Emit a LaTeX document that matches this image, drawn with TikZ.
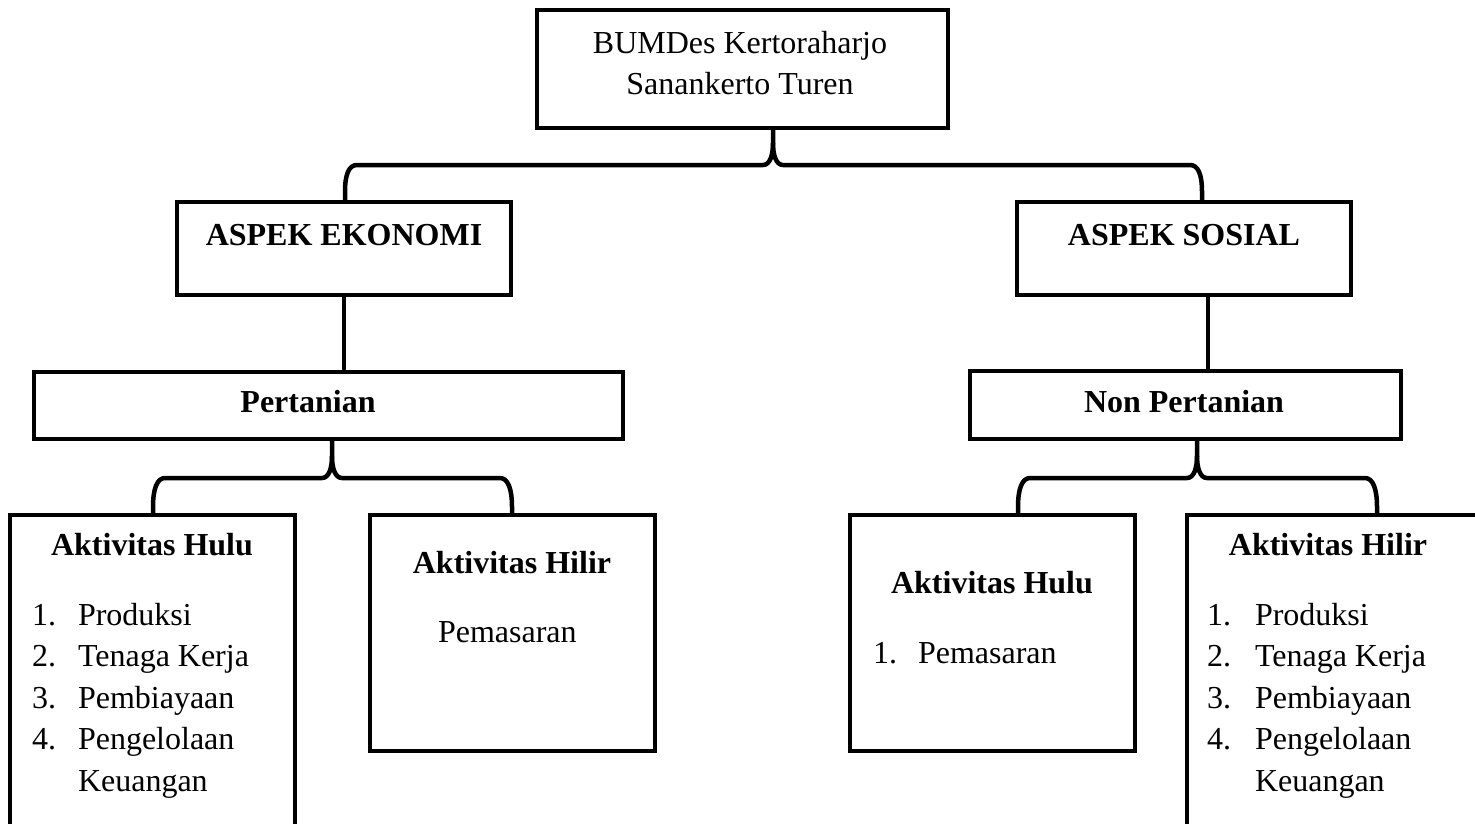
\documentclass[tikz,border=0pt]{standalone}
\usepackage{fontspec}
\setmainfont{Liberation Serif}
\usetikzlibrary{calc}
\begin{document}
\begin{tikzpicture}[x=1pt,y=-1pt,
  box/.style={draw=black,line width=4.5pt,rectangle,inner sep=0pt,outer sep=0pt},
  conn/.style={draw=black,line width=4.5pt,line join=round},
  txt/.style={inner sep=0pt,outer sep=0pt,font=\fontsize{32}{41}\selectfont},
  btxt/.style={txt,font=\fontsize{32}{41}\selectfont\bfseries}]
\useasboundingbox (0,0) rectangle (1475,823);
\clip (0,0) rectangle (1475,823);
% boxes (centre-line geometry)
\node[box,minimum width=411pt,minimum height=118pt] (top) at (742.5,69) {};
\node[box,minimum width=334pt,minimum height=93pt] (ekon) at (344,248.5) {};
\node[box,minimum width=334pt,minimum height=93pt] (sos) at (1184,248.5) {};
\node[box,minimum width=589pt,minimum height=67pt] (pert) at (328.5,405.5) {};
\node[box,minimum width=431pt,minimum height=68pt] (nonp) at (1185.5,405) {};
\node[box,minimum width=285pt,minimum height=385pt] (hulu1) at (152.5,707.5) {};
\node[box,minimum width=285pt,minimum height=236pt] (hilir1) at (512.5,633) {};
\node[box,minimum width=285pt,minimum height=236pt] (hulu2) at (992.5,633) {};
\node[box,minimum width=413pt,minimum height=385pt] (hilir2) at (1393.5,707.5) {};
% texts
\node[txt,anchor=base] (t1) at (740,53) {BUMDes Kertoraharjo};
\node[txt,anchor=base] (t2) at (740,94) {Sanankerto Turen};
\node[btxt,anchor=base] (t3) at (344,245) {ASPEK EKONOMI};
\node[btxt,anchor=base] (t4) at (1184,245) {ASPEK SOSIAL};
\node[btxt,anchor=base] (t5) at (308,412) {Pertanian};
\node[btxt,anchor=base] (t6) at (1184,412) {Non Pertanian};
% box hulu1
\node[btxt,anchor=base] (h1t) at (152,555) {Aktivitas Hulu};
\foreach \n/\s [count=\i from 0] in {1/Produksi,2/Tenaga Kerja,3/Pembiayaan,4/Pengelolaan}{
  \node[txt,anchor=base west] (h1n\n) at (32,625+41.5*\i) {\n.};
  \node[txt,anchor=base west] (h1s\n) at (78,625+41.5*\i) {\s};
}
\node[txt,anchor=base west] (h1k) at (78,791) {Keuangan};
% box hilir1
\node[btxt,anchor=base] (h2t) at (512,573) {Aktivitas Hilir};
\node[txt,anchor=base west] (h2s) at (438,642) {Pemasaran};
% box hulu2
\node[btxt,anchor=base] (h3t) at (992,593) {Aktivitas Hulu};
\node[txt,anchor=base west] (h3n) at (873,663) {1.};
\node[txt,anchor=base west] (h3s) at (918,663) {Pemasaran};
% box hilir2
\node[btxt,anchor=base] (h4t) at (1328,555) {Aktivitas Hilir};
\foreach \n/\s [count=\i from 0] in {1/Produksi,2/Tenaga Kerja,3/Pembiayaan,4/Pengelolaan}{
  \node[txt,anchor=base west] (h4n\n) at (1207,625+41.5*\i) {\n.};
  \node[txt,anchor=base west] (h4s\n) at (1255,625+41.5*\i) {\s};
}
\node[txt,anchor=base west] (h4k) at (1255,791) {Keuangan};
% connector junctions
\coordinate (ja) at (773,165);
\coordinate (jaL) at (345,165);
\coordinate (jaR) at (1202,165);
\coordinate (jb) at (332,478);
\coordinate (jbL) at (153,478);
\coordinate (jbR) at (512,478);
\coordinate (jc) at (1197,478);
\coordinate (jcL) at (1018,478);
\coordinate (jcR) at (1377,478);
\coordinate (sx) at (1208,300);
% top brace
\draw[conn] (jaL |- ekon.north) -- ++(0,-10) .. controls +(0,-18) and +(-8,0) .. ($(jaL)+(12,0)$)
  -- ($(ja)+(-10,0)$) .. controls +(7,0) and +(0,12) .. ($(ja)+(0,-22)$) -- (ja |- top.south);
\draw[conn] (jaR |- sos.north) -- ++(0,-10) .. controls +(0,-18) and +(8,0) .. ($(jaR)+(-12,0)$)
  -- ($(ja)+(10,0)$) .. controls +(-7,0) and +(0,12) .. ($(ja)+(0,-22)$);
% straight connectors
\draw[conn] (ekon.south) -- (ekon.south |- pert.north);
\draw[conn] (sx |- sos.south) -- (sx |- nonp.north);
% pertanian brace
\draw[conn] (jbL |- hulu1.north) -- ++(0,-8) .. controls +(0,-18) and +(-8,0) .. ($(jbL)+(12,0)$)
  -- ($(jb)+(-10,0)$) .. controls +(7,0) and +(0,12) .. ($(jb)+(0,-22)$) -- (jb |- pert.south);
\draw[conn] (jbR |- hilir1.north) -- ++(0,-8) .. controls +(0,-18) and +(8,0) .. ($(jbR)+(-12,0)$)
  -- ($(jb)+(10,0)$) .. controls +(-7,0) and +(0,12) .. ($(jb)+(0,-22)$);
% non pertanian brace
\draw[conn] (jcL |- hulu2.north) -- ++(0,-8) .. controls +(0,-18) and +(-8,0) .. ($(jcL)+(12,0)$)
  -- ($(jc)+(-10,0)$) .. controls +(7,0) and +(0,12) .. ($(jc)+(0,-22)$) -- (jc |- nonp.south);
\draw[conn] (jcR |- hilir2.north) -- ++(0,-8) .. controls +(0,-18) and +(8,0) .. ($(jcR)+(-12,0)$)
  -- ($(jc)+(10,0)$) .. controls +(-7,0) and +(0,12) .. ($(jc)+(0,-22)$);
\end{tikzpicture}
\end{document}
